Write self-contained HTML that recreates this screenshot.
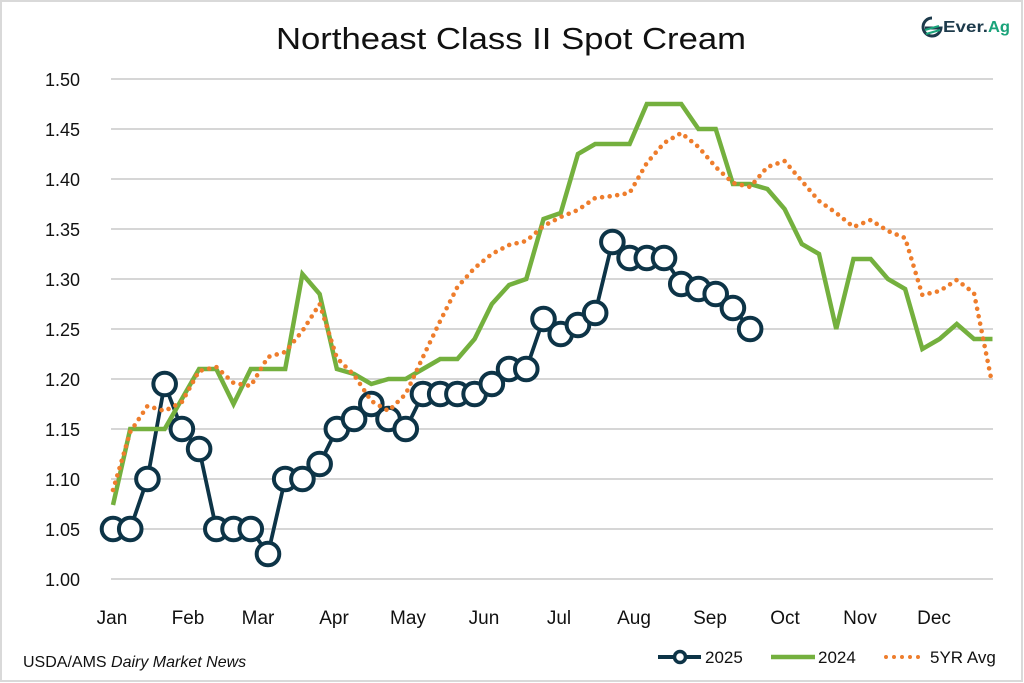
<!DOCTYPE html>
<html><head><meta charset="utf-8"><style>
html,body{margin:0;padding:0;background:#fff;}
svg{display:block;}
text{font-family:"Liberation Sans",Arial,sans-serif;}
</style></head><body>
<svg width="1024" height="683" viewBox="0 0 1024 683" xmlns="http://www.w3.org/2000/svg">
<rect x="0" y="0" width="1024" height="683" fill="#fff"/>
<rect x="1" y="1" width="1021" height="680" fill="none" stroke="#d9d9d9" stroke-width="2"/>
<text x="511" y="49" font-size="31" text-anchor="middle" fill="#111" textLength="470" lengthAdjust="spacingAndGlyphs">Northeast Class II Spot Cream</text>
<g transform="translate(922,17)">
<path d="M10 1 A9 9 0 1 0 19 11 L3 11" fill="none" stroke="#1d3a4b" stroke-width="3"/>
<path d="M3 13 L17 9 M4 17 L18 13" stroke="#1aa37a" stroke-width="2.2"/>
</g>
<text x="943" y="32" font-size="16" font-weight="bold" fill="#1d3a4b" textLength="45" lengthAdjust="spacingAndGlyphs">Ever.</text>
<text x="988" y="32" font-size="16" font-weight="bold" fill="#1aa37a" textLength="22" lengthAdjust="spacingAndGlyphs">Ag</text>
<g stroke="#c8c8c8" stroke-width="1.5">
<line x1="111" y1="79" x2="993" y2="79"/><line x1="111" y1="129" x2="993" y2="129"/>
<line x1="111" y1="179" x2="993" y2="179"/><line x1="111" y1="229" x2="993" y2="229"/>
<line x1="111" y1="279" x2="993" y2="279"/><line x1="111" y1="329" x2="993" y2="329"/>
<line x1="111" y1="379" x2="993" y2="379"/><line x1="111" y1="429" x2="993" y2="429"/>
<line x1="111" y1="479" x2="993" y2="479"/><line x1="111" y1="529" x2="993" y2="529"/>
<line x1="111" y1="579" x2="993" y2="579"/>
</g>
<g font-size="18" fill="#111" text-anchor="end">
<text x="80" y="86">1.50</text><text x="80" y="136">1.45</text><text x="80" y="186">1.40</text>
<text x="80" y="236">1.35</text><text x="80" y="286">1.30</text><text x="80" y="336">1.25</text>
<text x="80" y="386">1.20</text><text x="80" y="436">1.15</text><text x="80" y="486">1.10</text>
<text x="80" y="536">1.05</text><text x="80" y="586">1.00</text>
</g>
<g font-size="19" fill="#111" text-anchor="middle">
<text x="112" y="624">Jan</text><text x="188" y="624">Feb</text><text x="258" y="624">Mar</text>
<text x="334" y="624">Apr</text><text x="408" y="624">May</text><text x="484" y="624">Jun</text>
<text x="559" y="624">Jul</text><text x="634" y="624">Aug</text><text x="710" y="624">Sep</text>
<text x="785" y="624">Oct</text><text x="860" y="624">Nov</text><text x="934" y="624">Dec</text>
</g>
<polyline fill="none" stroke="#0d3447" stroke-width="3.8" stroke-linejoin="round" points="113,529 130.22,529 147.44,479 164.66,384 181.88,429 199.1,449 216.32,529 233.54,529 250.76,529 267.98,554 285.2,479 302.42,479 319.64,464 336.86,429 354.08,419 371.3,404 388.52,419 405.74,429 422.96,394 440.18,394 457.4,394 474.62,394 491.84,384 509.06,369 526.28,369 543.5,319 560.72,334 577.94,325 595.16,313 612.38,242 629.6,258 646.82,258 664.04,258 681.26,284 698.48,289 715.7,294 732.92,308 750.14,329"/>
<g fill="#fff" stroke="#0d3447" stroke-width="4">
<circle cx="113" cy="529" r="11.3"/><circle cx="130.22" cy="529" r="11.3"/><circle cx="147.44" cy="479" r="11.3"/>
<circle cx="164.66" cy="384" r="11.3"/><circle cx="181.88" cy="429" r="11.3"/><circle cx="199.1" cy="449" r="11.3"/>
<circle cx="216.32" cy="529" r="11.3"/><circle cx="233.54" cy="529" r="11.3"/><circle cx="250.76" cy="529" r="11.3"/>
<circle cx="267.98" cy="554" r="11.3"/><circle cx="285.2" cy="479" r="11.3"/><circle cx="302.42" cy="479" r="11.3"/>
<circle cx="319.64" cy="464" r="11.3"/><circle cx="336.86" cy="429" r="11.3"/><circle cx="354.08" cy="419" r="11.3"/>
<circle cx="371.3" cy="404" r="11.3"/><circle cx="388.52" cy="419" r="11.3"/><circle cx="405.74" cy="429" r="11.3"/>
<circle cx="422.96" cy="394" r="11.3"/><circle cx="440.18" cy="394" r="11.3"/><circle cx="457.4" cy="394" r="11.3"/>
<circle cx="474.62" cy="394" r="11.3"/><circle cx="491.84" cy="384" r="11.3"/><circle cx="509.06" cy="369" r="11.3"/>
<circle cx="526.28" cy="369" r="11.3"/><circle cx="543.5" cy="319" r="11.3"/><circle cx="560.72" cy="334" r="11.3"/>
<circle cx="577.94" cy="325" r="11.3"/><circle cx="595.16" cy="313" r="11.3"/><circle cx="612.38" cy="242" r="11.3"/>
<circle cx="629.6" cy="258" r="11.3"/><circle cx="646.82" cy="258" r="11.3"/><circle cx="664.04" cy="258" r="11.3"/>
<circle cx="681.26" cy="284" r="11.3"/><circle cx="698.48" cy="289" r="11.3"/><circle cx="715.7" cy="294" r="11.3"/>
<circle cx="732.92" cy="308" r="11.3"/><circle cx="750.14" cy="329" r="11.3"/>
</g>
<polyline fill="none" stroke="#74b03e" stroke-width="4.5" stroke-linejoin="miter" points="113,505 130.22,429 147.44,429 164.66,429 181.88,399 199.1,369 216.32,369 233.54,404 250.76,369 267.98,369 285.2,369 302.42,274 319.64,294 336.86,369 354.08,374 371.3,384 388.52,379 405.74,379 422.96,369 440.18,359 457.4,359 474.62,339 491.84,304 509.06,285 526.28,279 543.5,219 560.72,213 577.94,154 595.16,144 612.38,144 629.6,144 646.82,104 664.04,104 681.26,104 698.48,129 715.7,129 732.92,184 750.14,184 767.36,189 784.58,209 801.8,244 819.02,254 836.24,329 853.46,259 870.68,259 887.9,279 905.12,289 922.34,349 939.56,339 956.78,324 974,339 992.5,339"/>
<polyline fill="none" stroke="#ee7d2c" stroke-width="4.6" stroke-linecap="round" stroke-dasharray="0 7.6" points="113,490 130.22,432 147.44,406 164.66,411 181.88,402 199.1,371 216.32,367 233.54,383 250.76,386 267.98,357 285.2,352 302.42,331 319.64,304 336.86,358 354.08,375 371.3,401 388.52,411 405.74,394 422.96,357 440.18,321 457.4,287 474.62,268 491.84,254 509.06,245 526.28,241 543.5,226 560.72,217 577.94,210 595.16,198 612.38,196 629.6,193 646.82,163 664.04,143 681.26,133 698.48,147 715.7,167 732.92,183 750.14,187 767.36,167 784.58,161 801.8,181 819.02,201 836.24,213 853.46,227 870.68,220 887.9,231 905.12,238 922.34,295 939.56,291 956.78,280 974,293 991.22,379"/>
<text x="23" y="667" font-size="16" fill="#111">USDA/AMS <tspan font-style="italic">Dairy Market News</tspan></text>
<line x1="658" y1="657" x2="701" y2="657" stroke="#0d3447" stroke-width="4"/>
<circle cx="680" cy="657" r="5.5" fill="#fff" stroke="#0d3447" stroke-width="3.5"/>
<text x="705" y="663" font-size="17" fill="#111">2025</text>
<line x1="771" y1="657" x2="815" y2="657" stroke="#74b03e" stroke-width="4.5"/>
<text x="818" y="663" font-size="17" fill="#111">2024</text>
<line x1="886" y1="657" x2="924" y2="657" stroke="#ee7d2c" stroke-width="4" stroke-linecap="round" stroke-dasharray="0 8"/>
<text x="930" y="663" font-size="17" fill="#111">5YR Avg</text>
</svg>
</body></html>
